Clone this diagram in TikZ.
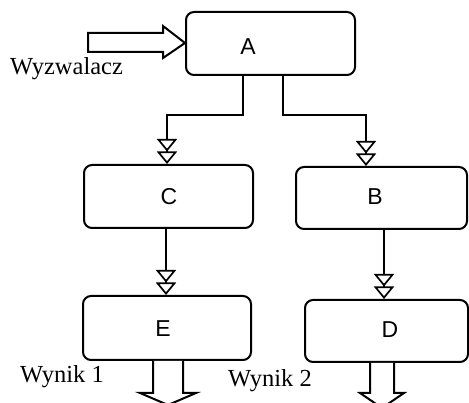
\documentclass[tikz,border=0pt]{standalone}
\usepackage{fontspec}
\setmainfont{Liberation Serif}
\newfontfamily\arialf{Liberation Sans}
\usetikzlibrary{arrows.meta}
\tikzset{
  blk/.style={draw, line width=2pt, rounded corners=8pt, fill=white, inner sep=0pt},
  conn/.style={line width=2pt, -{Triangle[open, fill=white, length=12.5pt, width=20pt, line width=1.7pt]Triangle[open, fill=white, length=12.5pt, width=20pt, line width=1.7pt]}},
  lbl/.style={font=\arialf\fontsize{23}{25}\selectfont, anchor=base, inner sep=0pt},
  txt/.style={font=\fontsize{24.5}{27}\selectfont, anchor=base west, inner sep=0pt},
  hollow/.style={draw, line width=2pt, fill=white, line join=miter}
}
\begin{document}
\begin{tikzpicture}[x=1pt, y=-1pt]
\clip (0,0) rectangle (469,403);
\useasboundingbox (0,0) rectangle (469,403);
% boxes
\node[blk, minimum width=169pt, minimum height=63pt] (A) at (270.5,43.5) {};
\node[blk, minimum width=169pt, minimum height=63pt] (C) at (168.5,196.5) {};
\node[blk, minimum width=171pt, minimum height=62pt] (B) at (381.5,198) {};
\node[blk, minimum width=168pt, minimum height=64pt] (E) at (167,328) {};
\node[blk, minimum width=163pt, minimum height=62pt] (D) at (386.5,331) {};
% box labels
\node[lbl] (lA) at (248,55) {A};
\node[lbl] (lC) at (169,205) {C};
\node[lbl] (lB) at (375,205) {B};
\node[lbl] (lE) at (163,337) {E};
\node[lbl] (lD) at (390,338) {D};
% texts
\node[txt] (wyz) at (10,75) {Wyzwalacz};
\node[txt] (w1) at (20,383) {Wynik 1};
\node[txt] (w2) at (228,387) {Wynik 2};
% connector bend points
\coordinate (a1) at (243,115);
\coordinate (a2) at (167,115);
\coordinate (b1) at (283,115);
\coordinate (b2) at (366,115);
\coordinate (c1) at (166,0);
\coordinate (d1) at (384,0);
\draw[conn] (A.south -| a1) -- (a1) -- (a2) -- (C.north -| a2);
\draw[conn] (A.south -| b1) -- (b1) -- (b2) -- (B.north -| b2);
\draw[conn] (C.south -| c1) -- (E.north -| c1);
\draw[conn] (B.south -| d1) -- (D.north -| d1);
% input arrow
\draw[hollow] (88,33) -- (163,33) -- (163,26) -- (A.west |- 0,43) -- (163,58) -- (163,52) -- (88,52) -- cycle;
% output arrows
\draw[hollow] (E.south -| 153,0) -- (153,393) -- (140,393) -- (168,405) -- (196,393) -- (183,393) -- (E.south -| 183,0);
\draw[hollow] (D.south -| 370,0) -- (370,393) -- (360,393) -- (382,408) -- (404,393) -- (394,393) -- (D.south -| 394,0);
\end{tikzpicture}
\end{document}
